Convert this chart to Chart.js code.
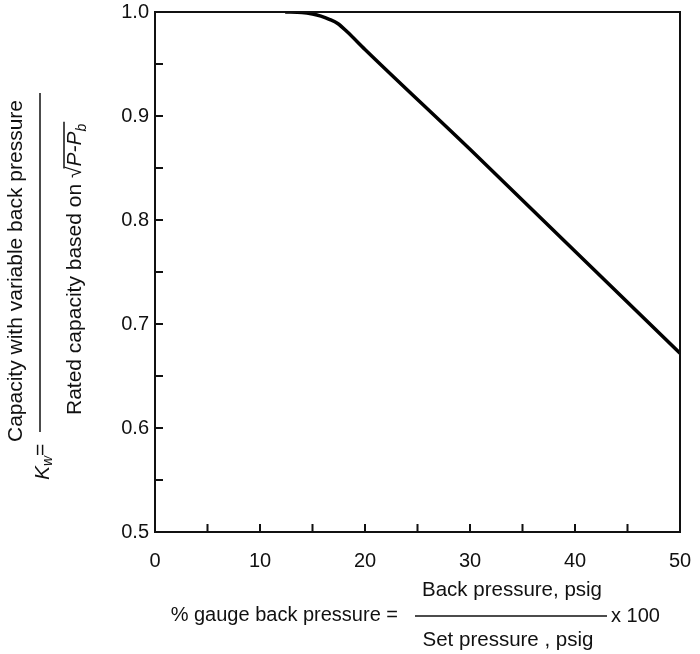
<!DOCTYPE html>
<html>
<head>
<meta charset="utf-8">
<script src="https://cdn.jsdelivr.net/npm/chart.js@4"></script>
<style>
  body { margin: 0; background: #fff; }
  #wrap { width: 700px; height: 654px; }
</style>
</head>
<body>
<div id="wrap"><canvas id="myChart" width="700" height="654"></canvas></div>
<script>
// curve: % gauge back pressure -> Kw
const backPressure = [12.4, 14, 15, 15.8, 16.6, 17.4, 18.3, 20, 30, 40, 50];
const kw = [1.0, 0.9995, 0.998, 0.996, 0.993, 0.989, 0.981, 0.964, 0.868, 0.770, 0.672];

const xTicks = [0, 10, 20, 30, 40, 50];
const yTicks = [0.5, 0.6, 0.7, 0.8, 0.9, 1.0];
const xMarks = [5, 10, 15, 20, 25, 30, 35, 40, 45];
const yMarks = [0.55, 0.6, 0.65, 0.7, 0.75, 0.8, 0.85, 0.9, 0.95];

const FONT = "'Liberation Sans', Arial, sans-serif";

// frame, inner ticks and the two fraction titles
const frame = {
  id: 'frame',
  afterDraw(chart) {
    const ctx = chart.ctx;
    const a = chart.chartArea;
    const xs = chart.scales.x, ys = chart.scales.y;
    ctx.save();
    ctx.strokeStyle = '#111';
    ctx.lineWidth = 2;
    ctx.strokeRect(a.left, a.top, a.right - a.left, a.bottom - a.top);
    ctx.beginPath();
    xMarks.forEach(v => {
      const px = xs.getPixelForValue(v);
      ctx.moveTo(px, a.bottom); ctx.lineTo(px, a.bottom - 8);
    });
    yMarks.forEach(v => {
      const py = ys.getPixelForValue(v);
      ctx.moveTo(a.left, py); ctx.lineTo(a.left + 8, py);
    });
    ctx.stroke();

    ctx.fillStyle = '#111';
    ctx.textBaseline = 'middle';

    // y title (rotated)
    ctx.save();
    ctx.translate(16, 442);
    ctx.rotate(-Math.PI / 2);
    ctx.font = '21px ' + FONT;
    ctx.textAlign = 'left';
    ctx.fillText('Capacity with variable back pressure', 0, 0);
    ctx.restore();

    ctx.lineWidth = 1.5;
    ctx.beginPath();
    ctx.moveTo(40, 93); ctx.lineTo(40, 432);
    ctx.stroke();

    ctx.save();
    ctx.translate(43, 480);
    ctx.rotate(-Math.PI / 2);
    ctx.textAlign = 'left';
    ctx.font = 'italic 21px ' + FONT;
    ctx.fillText('K', 0, 0);
    let w = ctx.measureText('K').width;
    ctx.font = 'italic 14px ' + FONT;
    ctx.fillText('w', w, 5);
    w += ctx.measureText('w').width;
    ctx.font = '21px ' + FONT;
    ctx.fillText('=', w, -2);
    ctx.restore();

    ctx.save();
    ctx.translate(75, 415);
    ctx.rotate(-Math.PI / 2);
    ctx.textAlign = 'left';
    ctx.font = '21px ' + FONT;
    const t1 = 'Rated capacity based on ';
    ctx.fillText(t1, 0, 0);
    let x = ctx.measureText(t1).width;
    ctx.fillText('\u221A', x, 0);
    x += ctx.measureText('\u221A').width;
    const sx = x;
    ctx.font = 'italic 21px ' + FONT;
    ctx.fillText('P-P', x, 0);
    x += ctx.measureText('P-P').width;
    ctx.font = 'italic 14px ' + FONT;
    ctx.fillText('b', x, 7);
    x += ctx.measureText('b').width + 2;
    ctx.lineWidth = 1.5;
    ctx.beginPath();
    ctx.moveTo(sx - 2, -11); ctx.lineTo(x, -11);
    ctx.stroke();
    ctx.restore();

    // x title
    ctx.font = '20px ' + FONT;
    ctx.textAlign = 'right';
    ctx.fillText('% gauge back pressure =', 398, 615);
    ctx.textAlign = 'left';
    ctx.fillText('x 100', 611, 616);
    ctx.textAlign = 'center';
    ctx.font = '20.5px ' + FONT;
    ctx.fillText('Back pressure, psig', 512, 590);
    ctx.fillText('Set pressure , psig', 508, 640);
    ctx.lineWidth = 1.5;
    ctx.beginPath();
    ctx.moveTo(415, 616); ctx.lineTo(607, 616);
    ctx.stroke();
    ctx.restore();
  }
};

const myChart = new Chart(document.getElementById('myChart').getContext('2d'), {
  type: 'scatter',
  data: {
    datasets: [{
      data: backPressure.map((v, i) => ({ x: v, y: kw[i] })),
      showLine: true,
      borderColor: '#000',
      borderWidth: 3.5,
      pointRadius: 0,
      cubicInterpolationMode: 'monotone'
    }]
  },
  options: {
    responsive: false,
    animation: false,
    layout: { padding: { top: 12, right: 20, left: 0, bottom: 0 } },
    plugins: { legend: { display: false }, tooltip: { enabled: false } },
    scales: {
      x: {
        type: 'linear', min: 0, max: 50,
        grid: { display: false, drawTicks: false },
        border: { display: false },
        afterBuildTicks(s) { s.ticks = xTicks.map(v => ({ value: v })); },
        afterFit(s) { s.height = 122; s.paddingLeft = 0; s.paddingRight = 0; },
        ticks: { color: '#111', font: { family: FONT, size: 20 }, padding: 17, maxRotation: 0 }
      },
      y: {
        type: 'linear', min: 0.5, max: 1.0,
        grid: { display: false, drawTicks: false },
        border: { display: false },
        afterBuildTicks(s) { s.ticks = yTicks.map(v => ({ value: v })); },
        afterFit(s) { s.width = 155; s.paddingTop = 0; s.paddingBottom = 0; },
        ticks: { color: '#111', font: { family: FONT, size: 20 }, padding: 6, callback: v => v.toFixed(1) }
      }
    }
  },
  plugins: [frame]
});
</script>
</body>
</html>
